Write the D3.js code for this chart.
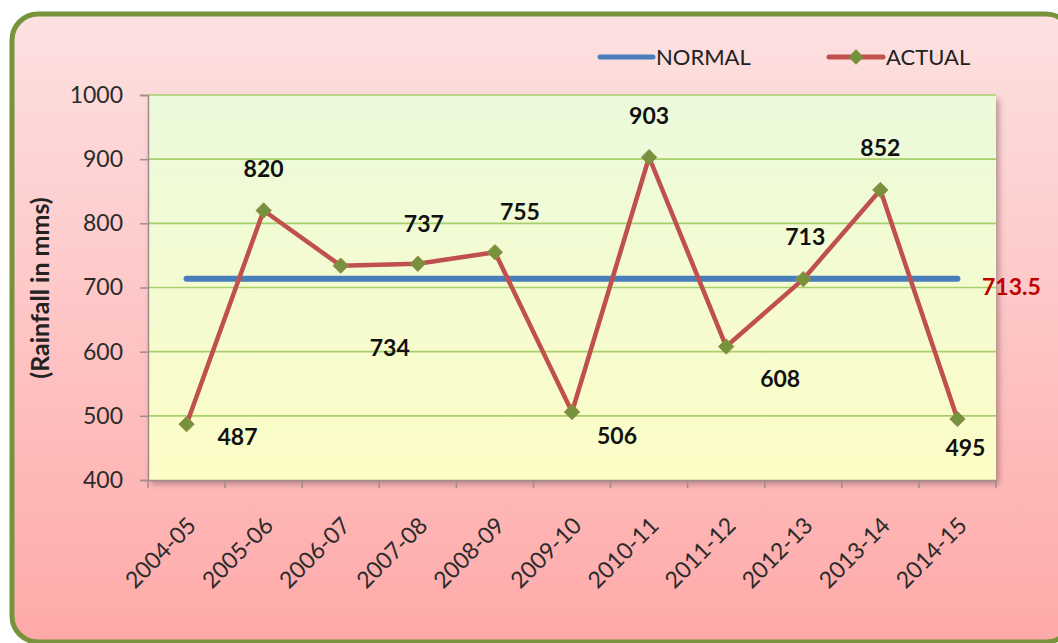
<!DOCTYPE html>
<html>
<head>
<meta charset="utf-8">
<script src="https://cdn.jsdelivr.net/npm/d3@7"></script>
<style>
  body { margin: 0; background: #fff; }
  svg { display: block; font-family: Lato, "Open Sans", sans-serif; }
</style>
</head>
<body>
<div class="chart"></div>
<script>
// ------------------------------------------------------------
// data
// ------------------------------------------------------------
const years = ["2004-05", "2005-06", "2006-07", "2007-08", "2008-09", "2009-10",
               "2010-11", "2011-12", "2012-13", "2013-14", "2014-15"];
const actual = [487, 820, 734, 737, 755, 506, 903, 608, 713, 852, 495];
const normal = 713.5;
const yTicks = [400, 500, 600, 700, 800, 900, 1000];

// where each value label sits relative to its marker (label placement only)
const labelDx = [51, 0, 49, 6, 25, 45, 0, 54, 2, 0, 8];
const labelDy = [21, -34, 90, -32, -32, 32, -33, 40, -34, -34, 37];

const W = 1058, H = 643;
const plot = { left: 148, top: 95, right: 996, bottom: 480 };

const svg = d3.select(".chart").append("svg")
  .attr("width", W).attr("height", H);

const defs = svg.append("defs");

const bg = defs.append("linearGradient").attr("id", "bg")
  .attr("x1", 0).attr("y1", 0).attr("x2", 0).attr("y2", 1);
bg.append("stop").attr("offset", 0).attr("stop-color", "#fde1e1");
bg.append("stop").attr("offset", 1).attr("stop-color", "#ffa9a9");

const pg = defs.append("linearGradient").attr("id", "pg")
  .attr("x1", 0).attr("y1", 0).attr("x2", 0).attr("y2", 1);
pg.append("stop").attr("offset", 0).attr("stop-color", "#ebfadc");
pg.append("stop").attr("offset", 1).attr("stop-color", "#fdfdc6");

const shadow = defs.append("filter").attr("id", "shadow")
  .attr("x", "-5%").attr("y", "-5%").attr("width", "115%").attr("height", "115%");
shadow.append("feDropShadow").attr("dx", 3).attr("dy", 4).attr("stdDeviation", 3)
  .attr("flood-color", "#7a5a5a").attr("flood-opacity", 0.55);

// outer frame
svg.append("rect")
  .attr("x", 12).attr("y", 14).attr("width", 1060).attr("height", 628)
  .attr("rx", 26).attr("ry", 26)
  .attr("fill", "url(#bg)")
  .attr("stroke", "#77933c").attr("stroke-width", 5);

// scales
const x = d3.scaleBand().domain(years).range([plot.left, plot.right]);
const y = d3.scaleLinear().domain([400, 1000]).range([plot.bottom, plot.top]);
const cx = d => x(d) + x.bandwidth() / 2;

// plot area
svg.append("rect")
  .attr("x", plot.left).attr("y", plot.top)
  .attr("width", plot.right - plot.left).attr("height", plot.bottom - plot.top)
  .attr("fill", "url(#pg)")
  .attr("filter", "url(#shadow)");

// gridlines
svg.append("g").selectAll("line")
  .data(yTicks.slice(1))
  .join("line")
  .attr("x1", plot.left).attr("x2", plot.right)
  .attr("y1", d => y(d)).attr("y2", d => y(d))
  .attr("stroke", "#a9cf6c").attr("stroke-width", 1.6);

// y axis
const yAxis = svg.append("g")
  .attr("transform", `translate(${plot.left},0)`)
  .call(d3.axisLeft(y).tickValues(yTicks).tickFormat(d3.format("d")).tickSize(8).tickPadding(17));
yAxis.select(".domain").attr("stroke", "#a08c8c").attr("stroke-width", 1.5);
yAxis.selectAll(".tick line").attr("stroke", "#a08c8c").attr("stroke-width", 1.5);
yAxis.selectAll(".tick text")
  .attr("font-size", 23).attr("fill", "#2b2b2b").attr("font-family", "Lato, sans-serif");

// x axis
const xAxis = svg.append("g")
  .attr("transform", `translate(0,${plot.bottom})`)
  .call(d3.axisBottom(x).tickSize(0).tickFormat(""));
xAxis.select(".domain").attr("stroke", "#a08c8c").attr("stroke-width", 1.5);
// tick marks between categories
svg.append("g").selectAll("line")
  .data(years.concat(["end"]))
  .join("line")
  .attr("x1", (d, i) => plot.left + i * x.step())
  .attr("x2", (d, i) => plot.left + i * x.step())
  .attr("y1", plot.bottom).attr("y2", plot.bottom + 8)
  .attr("stroke", "#a08c8c").attr("stroke-width", 1.5);

svg.append("g").selectAll("text")
  .data(years)
  .join("text")
  .attr("transform", d => `translate(${cx(d) + 11},${plot.bottom + 47}) rotate(-45)`)
  .attr("text-anchor", "end")
  .attr("font-size", 23)
  .attr("fill", "#2b2b2b")
  .text(d => d);

// y title
svg.append("text")
  .attr("transform", `translate(49,288) rotate(-90)`)
  .attr("text-anchor", "middle")
  .attr("font-size", 25)
  .attr("font-weight", "bold")
  .attr("fill", "#222")
  .text("(Rainfall in mms)");

// normal line
svg.append("line")
  .attr("x1", cx(years[0])).attr("x2", cx(years[years.length - 1]))
  .attr("y1", y(normal)).attr("y2", y(normal))
  .attr("stroke", "#4a7ebb").attr("stroke-width", 6).attr("stroke-linecap", "round");

svg.append("text")
  .attr("x", 982).attr("y", y(normal) + 16)
  .attr("font-size", 23).attr("font-weight", "bold")
  .attr("fill", "#c00000")
  .text(normal);

// actual line
const line = d3.line().x((d, i) => cx(years[i])).y(d => y(d));
svg.append("path")
  .datum(actual)
  .attr("d", line)
  .attr("fill", "none")
  .attr("stroke", "#c0504d").attr("stroke-width", 4.5)
  .attr("stroke-linejoin", "round");

const diamond = d3.symbol().type(d3.symbolDiamond2).size(150);
svg.append("g").selectAll("path")
  .data(actual)
  .join("path")
  .attr("d", diamond)
  .attr("transform", (d, i) => `translate(${cx(years[i])},${y(d)})`)
  .attr("fill", "#76923c").attr("stroke", "#9a8a4a").attr("stroke-width", 1);

// value labels
svg.append("g").selectAll("text")
  .data(actual)
  .join("text")
  .attr("x", (d, i) => cx(years[i]) + labelDx[i])
  .attr("y", (d, i) => y(d) + labelDy[i])
  .attr("text-anchor", "middle")
  .attr("font-size", 23).attr("font-weight", "bold")
  .attr("fill", "#111")
  .text(d => d);

// legend
const legend = svg.append("g");
legend.append("line")
  .attr("x1", 600).attr("x2", 653).attr("y1", 57).attr("y2", 57)
  .attr("stroke", "#4a7ebb").attr("stroke-width", 5).attr("stroke-linecap", "round");
legend.append("text")
  .attr("x", 656).attr("y", 65).attr("font-size", 22).attr("fill", "#222")
  .text("NORMAL");
legend.append("line")
  .attr("x1", 829).attr("x2", 883).attr("y1", 57).attr("y2", 57)
  .attr("stroke", "#c0504d").attr("stroke-width", 5).attr("stroke-linecap", "round");
legend.append("path")
  .attr("d", diamond)
  .attr("transform", "translate(856,57)")
  .attr("fill", "#76923c");
legend.append("text")
  .attr("x", 886).attr("y", 65).attr("font-size", 22).attr("fill", "#222")
  .text("ACTUAL");
</script>
</body>
</html>
